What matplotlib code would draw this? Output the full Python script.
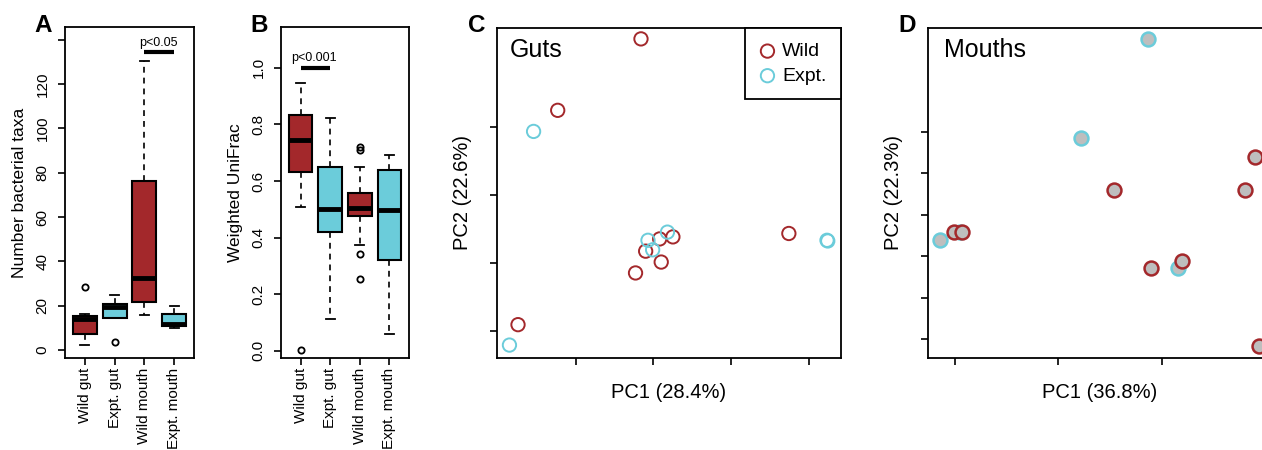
import numpy as np
import matplotlib
matplotlib.use('Agg')
import matplotlib.pyplot as plt

plt.rcParams['font.family'] = ['Liberation Sans', 'DejaVu Sans']

# ---- data ----
categories = ['Wild gut', 'Expt. gut', 'Wild mouth', 'Expt. mouth']
box_colors = ['#A3282B', '#6BCCDA', '#A3282B', '#6BCCDA']

# panel A: number of bacterial taxa (box stats)
a_whislo = [2.2, 14.6, 15.8, 9.8]
a_q1 = [7.1, 14.6, 21.5, 10.7]
a_med = [13.8, 19.5, 32.4, 11.8]
a_q3 = [15.5, 20.8, 76.3, 16.3]
a_whishi = [16.3, 24.8, 130.5, 19.9]
a_fliers = [[28.6], [3.8], [], []]

# panel B: weighted UniFrac (box stats)
b_whislo = [0.509, 0.113, 0.374, 0.059]
b_q1 = [0.631, 0.419, 0.476, 0.321]
b_med = [0.745, 0.502, 0.504, 0.498]
b_q3 = [0.833, 0.648, 0.559, 0.639]
b_whishi = [0.947, 0.823, 0.651, 0.692]
b_fliers = [[0.004], [], [0.341, 0.254, 0.71, 0.72], []]

# panel C: PCoA of guts
guts_wild_pc1 = [-0.116, -0.223, 0.074, -0.075, -0.092, -0.110, -0.090, -0.123, -0.274]
guts_wild_pc2 = [0.329, 0.224, 0.043, 0.038, 0.035, 0.017, 0.001, -0.015, -0.091]
guts_expt_pc1 = [-0.254, 0.123, 0.124, -0.082, -0.107, -0.101, -0.285]
guts_expt_pc2 = [0.193, 0.033, 0.032, 0.045, 0.033, 0.019, -0.121]

# panel D: PCoA of mouths
mouths_wild_pc1 = [-0.201, -0.193, -0.046, 0.081, 0.090, -0.010, 0.020, 0.094]
mouths_wild_pc2 = [-0.042, -0.042, 0.061, 0.061, 0.140, -0.128, -0.111, -0.316]
mouths_expt_pc1 = [-0.013, -0.078, -0.214, -0.195, 0.016]
mouths_expt_pc2 = [0.423, 0.185, -0.060, -0.042, -0.128]

wild_col = '#A3282B'
expt_col = '#6BCCDA'

W, H = 1262, 450
fig = plt.figure(figsize=(W / 100, H / 100), dpi=100)


def px_axes(left, right, top, bottom):
    return fig.add_axes([left / W, 1 - bottom / H, (right - left) / W, (bottom - top) / H])


def style_axes(ax):
    for s in ax.spines.values():
        s.set_linewidth(1.3)
    ax.tick_params(length=5, width=1.2, direction='out')


def draw_boxes(ax, whislo, q1, med, q3, whishi, fliers):
    stats = []
    for i in range(len(categories)):
        stats.append(dict(whislo=whislo[i], q1=q1[i], med=med[i], q3=q3[i],
                          whishi=whishi[i], fliers=fliers[i]))
    bp = ax.bxp(stats, positions=np.arange(1, 5), widths=0.8, capwidths=0.3,
                patch_artist=True, showfliers=True,
                boxprops=dict(linewidth=1.5, edgecolor='black'),
                whiskerprops=dict(linewidth=1.2, linestyle=(0, (3.5, 3))),
                capprops=dict(linewidth=1.3),
                medianprops=dict(linewidth=3.5, color='black', solid_capstyle='butt'),
                flierprops=dict(marker='o', markerfacecolor='none', markeredgecolor='black',
                                markersize=4.5, markeredgewidth=1.3))
    for patch, c in zip(bp['boxes'], box_colors):
        patch.set_facecolor(c)
    ax.set_xlim(0.34, 4.66)
    ax.set_xticks(np.arange(1, 5))
    ax.set_xticklabels(categories, rotation=90, fontsize=11)
    ax.tick_params(axis='x', pad=2)
    ax.tick_params(axis='y', labelsize=11, pad=6)


# ---- A ----
axA = px_axes(65, 194, 27, 358)
style_axes(axA)
draw_boxes(axA, a_whislo, a_q1, a_med, a_q3, a_whishi, a_fliers)
axA.set_ylim(-3.6, 145.8)
axA.set_yticks(np.arange(0, 141, 20))
axA.set_yticklabels([str(v) for v in range(0, 121, 20)] + [''], rotation=90, va='center')
axA.set_ylabel('Number bacterial taxa', fontsize=12.5, labelpad=6)
axA.plot([3, 4], [134.3, 134.3], color='black', lw=3, solid_capstyle='butt')
axA.text(3.48, 136, 'p<0.05', ha='center', va='bottom', fontsize=9)

# ---- B ----
axB = px_axes(281, 409, 27, 358)
style_axes(axB)
draw_boxes(axB, b_whislo, b_q1, b_med, b_q3, b_whishi, b_fliers)
axB.set_ylim(-0.025, 1.144)
axB.set_yticks(np.arange(0, 1.01, 0.2))
axB.set_yticklabels(['%.1f' % v for v in np.arange(0, 1.01, 0.2)], rotation=90, va='center')
axB.set_ylabel('Weighted UniFrac', fontsize=12.5, labelpad=6)
axB.plot([1, 2], [1.0, 1.0], color='black', lw=3, solid_capstyle='butt')
axB.text(1.45, 1.013, 'p<0.001', ha='center', va='bottom', fontsize=9)

# ---- C ----
axC = px_axes(497, 841, 28, 358)
style_axes(axC)
axC.scatter(guts_wild_pc1, guts_wild_pc2, s=92, facecolors='none', edgecolors=wild_col,
            linewidths=1.4, label='Wild', zorder=3)
axC.scatter(guts_expt_pc1, guts_expt_pc2, s=92, facecolors='none', edgecolors=expt_col,
            linewidths=1.4, label='Expt.', zorder=3)
axC.set_xlim(-0.301, 0.141)
axC.set_ylim(-0.140, 0.345)
axC.set_xticks([-0.2, -0.1, 0.0, 0.1])
axC.set_yticks([-0.1, 0.0, 0.1, 0.2])
axC.tick_params(labelleft=False, labelbottom=False)
axC.set_xlabel('PC1 (28.4%)', fontsize=14.5, labelpad=13)
axC.set_ylabel('PC2 (22.6%)', fontsize=14.5, labelpad=13)
axC.text(0.038, 0.911, 'Guts', transform=axC.transAxes, fontsize=18, ha='left', va='baseline')
leg = axC.legend(loc='upper right', borderaxespad=0, fancybox=False, framealpha=1,
                 edgecolor='black', fontsize=14, handletextpad=0.35, borderpad=0.75,
                 labelspacing=0.36, handlelength=0.8)
leg.get_frame().set_linewidth(1.3)

# ---- D ----
axD = px_axes(928, 1272, 28, 358)
style_axes(axD)
axD.scatter(mouths_expt_pc1, mouths_expt_pc2, s=100, facecolors='#BEBEBE', edgecolors=expt_col,
            linewidths=1.8, zorder=3)
axD.scatter(mouths_wild_pc1, mouths_wild_pc2, s=100, facecolors='#BEBEBE', edgecolors=wild_col,
            linewidths=1.8, zorder=4)
axD.set_xlim(-0.2258, 0.1068)
axD.set_ylim(-0.345, 0.4506)
axD.set_xticks([-0.2, -0.1, 0.0, 0.1])
axD.set_yticks([-0.3, -0.2, -0.1, 0.0, 0.1, 0.2])
axD.tick_params(labelleft=False, labelbottom=False)
axD.set_xlabel('PC1 (36.8%)', fontsize=14.5, labelpad=13)
axD.set_ylabel('PC2 (22.3%)', fontsize=14.5, labelpad=13)
axD.text(0.047, 0.911, 'Mouths', transform=axD.transAxes, fontsize=18, ha='left', va='baseline')

# panel letters
for letter, x in zip('ABCD', [42.7, 259, 477, 907]):
    fig.text(x / W, 1 - 31.7 / H, letter, fontsize=17.5, fontweight='bold',
             ha='center', va='baseline')

fig.savefig('out.png', dpi=100)
